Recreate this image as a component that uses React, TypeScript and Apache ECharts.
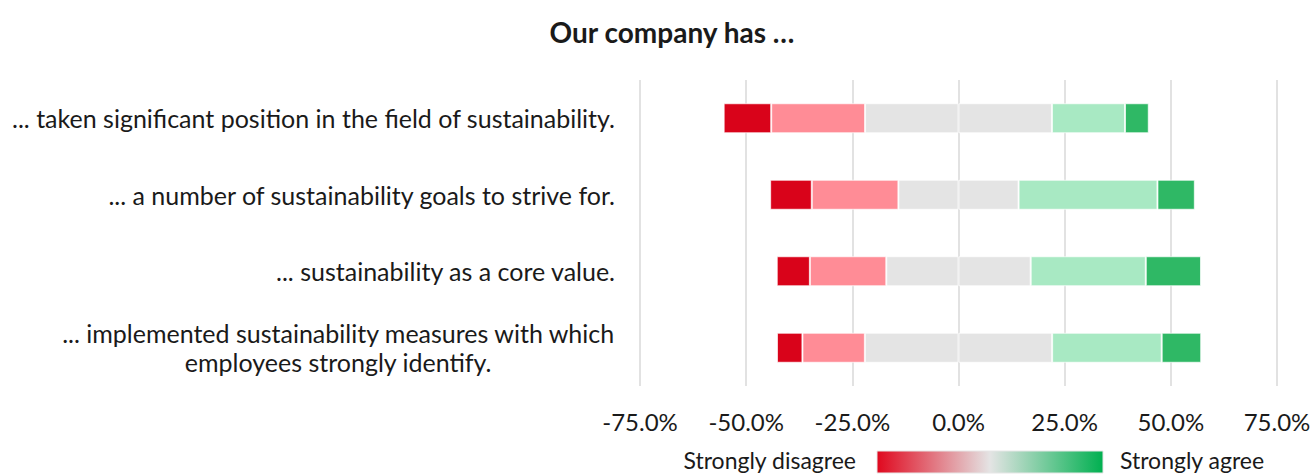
import React, { useEffect, useRef } from "react";
import * as echarts from "echarts";

const categories = [
  "... taken significant position in the field of sustainability.",
  "... a number of sustainability goals to strive for.",
  "... sustainability as a core value.",
  "... implemented sustainability measures with which\nemployees strongly identify.",
];
const stronglyDisagree = [11.2, 9.8, 7.8, 6.0];
const disagree = [22.1, 20.4, 18.0, 14.7];
const neutral = [44.0, 28.3, 34.0, 44.1];
const agree = [17.2, 32.7, 27.1, 25.8];
const stronglyAgree = [5.6, 8.8, 13.0, 9.3];
const xTicks = { min: -75, max: 75, interval: 25 };
const legendLabels = ["Strongly disagree", "Strongly agree"];
const title = "Our company has …";

const FONT = "Lato, 'Open Sans', sans-serif";
const TEXT = "#1a1a1a";

export default function App() {
  const ref = useRef<HTMLDivElement>(null);
  useEffect(() => {
    document.body.style.margin = "0";
    const chart = echarts.init(ref.current!, null, { renderer: "svg" });
    const border = { borderColor: "rgba(255,255,255,0.7)", borderWidth: 1 };
    const mk = (name: string, data: number[], color: string) => ({
      name,
      type: "bar",
      stack: "total",
      barWidth: 30,
      data,
      itemStyle: { color, ...border },
    });
    chart.setOption({
      animation: false,
      backgroundColor: "#fff",
      textStyle: { fontFamily: FONT },
      title: {
        text: title,
        left: 667,
        top: 13,
        textAlign: "center",
        textStyle: { fontFamily: FONT, fontSize: 28, fontWeight: "bold", color: TEXT },
      },
      grid: { left: 640, right: 37, top: 80, bottom: 89, containLabel: false },
      xAxis: {
        type: "value",
        min: xTicks.min,
        max: xTicks.max,
        interval: xTicks.interval,
        axisLine: { show: false },
        axisTick: { show: false },
        splitLine: { lineStyle: { color: "#d9d9d9", width: 1.5 } },
        axisLabel: {
          formatter: (v: number) => v.toFixed(1) + "%",
          fontFamily: FONT,
          fontSize: 24,
          color: TEXT,
          margin: 23,
        },
      },
      yAxis: {
        type: "category",
        inverse: true,
        data: categories,
        axisLine: { show: false },
        axisTick: { show: false },
        axisLabel: {
          margin: 25,
          fontFamily: FONT,
          fontSize: 25,
          color: TEXT,
          lineHeight: 29,
          formatter: (v: string) => (v.includes("\n") ? `{c|${v}}` : v),
          rich: {
            c: { align: "center", fontFamily: FONT, fontSize: 25, color: TEXT, lineHeight: 29 },
          },
        },
      },
      series: [
        mk("Neutral (neg)", neutral.map((v) => -v / 2), "#e4e4e4"),
        mk("Disagree", disagree.map((v) => -v), "#ff8c96"),
        mk("Strongly disagree", stronglyDisagree.map((v) => -v), "#d9031a"),
        mk("Neutral (pos)", neutral.map((v) => v / 2), "#e4e4e4"),
        mk("Agree", agree, "#a8e9c3"),
        mk("Strongly agree", stronglyAgree, "#2fb865"),
      ],
      graphic: [
        {
          type: "rect",
          shape: { x: 877, y: 451, width: 226, height: 22 },
          style: {
            fill: new echarts.graphic.LinearGradient(0, 0, 1, 0, [
              { offset: 0, color: "#e0081e" },
              { offset: 0.5, color: "#e4e4e4" },
              { offset: 1, color: "#00b050" },
            ]),
            stroke: "#e6e6e6",
            lineWidth: 1,
          },
        },
        {
          type: "text",
          x: 856,
          y: 460,
          style: {
            text: legendLabels[0],
            fontFamily: FONT,
            fontSize: 23,
            fill: TEXT,
            align: "right",
            verticalAlign: "middle",
          },
        },
        {
          type: "text",
          x: 1120,
          y: 460,
          style: {
            text: legendLabels[1],
            fontFamily: FONT,
            fontSize: 23,
            fill: TEXT,
            align: "left",
            verticalAlign: "middle",
          },
        },
      ],
    });
    return () => chart.dispose();
  }, []);
  return (
    <div
      ref={ref}
      style={{ position: "absolute", left: 0, top: 0, width: 1314, height: 475 }}
    />
  );
}
